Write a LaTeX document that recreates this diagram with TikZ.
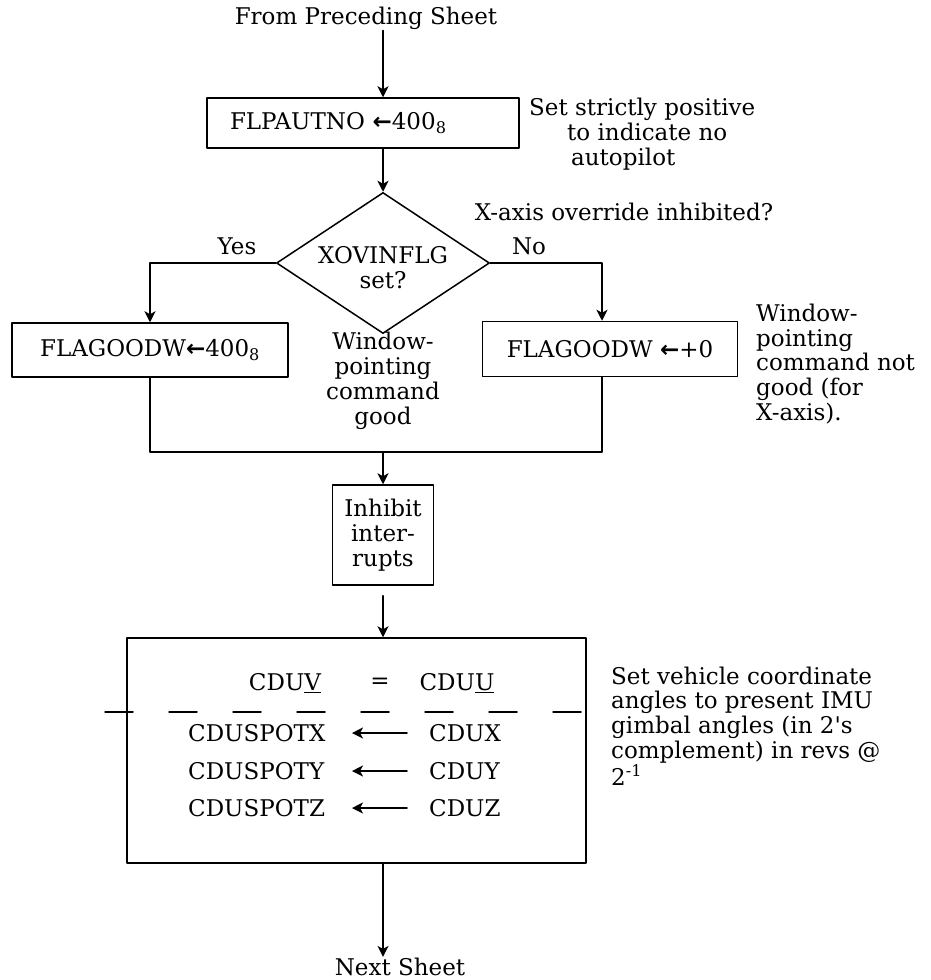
\documentclass[tikz,border=0pt]{standalone}
\usepackage{fontspec}
\setmainfont{DejaVu Serif}
\newfontfamily\arrowfont{DejaVu Sans}
\newcommand{\setto}{{\arrowfont\bfseries ←}}
\usetikzlibrary{shapes.geometric,arrows.meta}

\begin{document}
\begin{tikzpicture}[x=1pt,y=-1pt,line cap=round,line join=round,
  >={Stealth[length=11pt,width=11pt,inset=3pt]},
  every node/.style={inner sep=1pt,font=\fontsize{23}{24.8}\selectfont},
  flowbox/.style={draw,line width=1.5pt,inner sep=0pt},
  decide/.style={diamond,draw,line width=1.5pt,inner sep=0pt,
    minimum width=213,minimum height=141},
  flowline/.style={line width=1.5pt}]
  \useasboundingbox (0,0) rectangle (930,980);
  \def\r{602}
  \coordinate (spine) at (383,0);
  \coordinate (rcol) at (\r,0);

  % entry and autopilot flag
  \node (from) at (366,18) {From Preceding Sheet};
  \node[flowbox,minimum height=50,inner xsep=23,text width=266,align=left] (noauto) at (363,123)
    {FLPAUTNO \setto400\textsubscript{8}};
  \node[align=left,anchor=west] (noautonote) at (528,134)
    {Set strictly positive\\\hspace{38pt}to indicate no\\\hspace{42pt}autopilot};

  % X-axis override test
  \node[decide] (xovin) at (383,263) {};
  \node[align=center] (xovintext) at (383,268) {XOVINFLG\\set?};
  \node (xquery) at (624,212) {X-axis override inhibited?};
  \node (yes) at (237,246) {Yes};
  \node (no) at (529,246) {No};

  \node[flowbox,minimum width=276,minimum height=54] (okflag) at (150,350)
    {FLAGOODW\setto400\textsubscript{8}};
  \node[flowbox,minimum width=255,minimum height=55] (noflag) at (610,349)
    {FLAGOODW \setto+0};
  \node[align=center] (goodnote) at (383,381) {Window-\\pointing\\command\\good};
  \node[align=left,anchor=west] (badnote) at (755,364)
    {Window-\\pointing\\command not\\good (for\\X-axis).};

  \coordinate (join) at (383,452);

  % interrupts and CDU copy
  \node[flowbox,minimum width=101,minimum height=100,align=center] (inhint) at (383,535)
    {Inhibit\\inter-\\rupts};
  \node[flowbox,minimum width=459,minimum height=225] (cducopy) at (356.5,750.5) {};
  \node (cduv) at (285,683) {CDU\underline{V}};
  \node (equal) at (380,683) {=};
  \node (cduu) at (457,683) {CDU\underline{U}};
  \draw[flowline,dash pattern=on 28pt off 36pt] (105,712) -- (612,712);
  \foreach \a/\y in {X/733,Y/771,Z/808}{
    \node[anchor=west] (spot\a) at (187,\y) {CDUSPOT\a};
    \node[anchor=west] (cdu\a) at (428,\y) {CDU\a};
    \draw[flowline,->] (407,\y) -- (352,\y);
  }
  \node[align=left,anchor=west] (cdunote) at (610,726)
    {Set vehicle coordinate\\angles to present IMU\\gimbal angles (in 2\textquotesingle s\\complement) in revs @\\2\textsuperscript{-1}};
  \node (next) at (400,967) {Next Sheet};

  % connectors
  \draw[flowline,->] (from.south -| spine) -- (noauto.north -| spine);
  \draw[flowline,->] (noauto.south -| spine) -- (xovin.north);
  \draw[flowline,->] (xovin.west) -| (okflag.north);
  \draw[flowline,->] (xovin.east) -| (noflag.north -| rcol);
  \draw[flowline] (okflag.south) |- (join);
  \draw[flowline] (noflag.south -| rcol) |- (join);
  \draw[flowline,->] (join) -- (inhint.north);
  \draw[flowline,->] (inhint.south) ++(0,10) -- (cducopy.north -| spine);
  \draw[flowline,->] (cducopy.south -| spine) -- (next.north -| spine);
\end{tikzpicture}
\end{document}
